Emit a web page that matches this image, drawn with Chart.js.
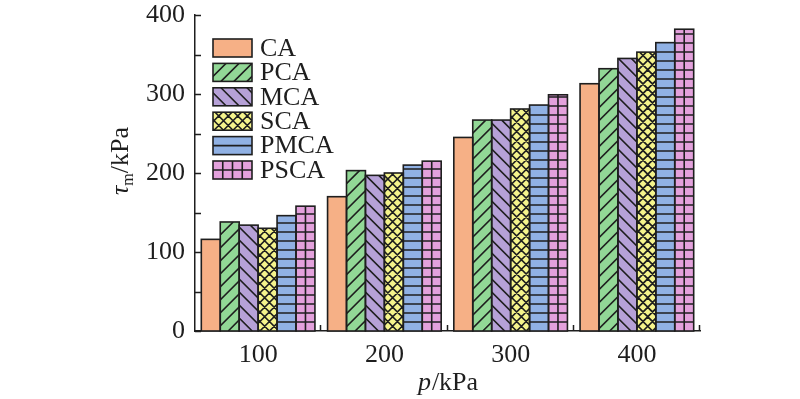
<!DOCTYPE html>
<html>
<head>
<meta charset="utf-8">
<script src="https://cdn.jsdelivr.net/npm/chart.js@4"></script>
<style>
  html, body { margin: 0; padding: 0; background: #fff; }
  #wrap { width: 800px; height: 399px; }
</style>
</head>
<body>
<div id="wrap"><canvas id="myChart"></canvas></div>
<script>
// data
var Categories = ['100', '200', '300', '400'];
var SeriesNames = ['CA', 'PCA', 'MCA', 'SCA', 'PMCA', 'PSCA'];
var CA   = [116, 170, 245, 313];
var PCA  = [138, 203, 267, 332];
var MCA  = [134, 197, 267, 345];
var SCA  = [130, 200, 281, 353];
var PMCA = [146, 210, 286, 365];
var PSCA = [158, 215, 299, 382];
var YTicks = [0, 100, 200, 300, 400];

var Values = [CA, PCA, MCA, SCA, PMCA, PSCA];
var Fills = ['#f6b086', '#92d896', '#b6a1d7', '#f5f48c', '#90b1e4', '#e3a1dc'];
var Hatches = ['none', 'fwd', 'back', 'cross', 'horiz', 'grid'];
var InkColor = '#1e1e1e';
var FontName = '"Liberation Serif", "Times New Roman", serif';

function hatch(ctx, kind, x, y, w, h) {
    ctx.save();
    ctx.beginPath();
    ctx.rect(x, y, w, h);
    ctx.clip();
    ctx.strokeStyle = InkColor;
    ctx.lineWidth = 1.6;
    ctx.beginPath();
    var b = y + h, o, yy;
    if (kind == 'fwd') {
        for (o = -h - 13; o < w + 13; o += 13) { ctx.moveTo(x + o, b); ctx.lineTo(x + o + h, y); }
    }
    if (kind == 'back') {
        for (o = -13; o < w + h + 13; o += 13) { ctx.moveTo(x + o, b); ctx.lineTo(x + o - h, y); }
    }
    if (kind == 'cross') {
        var s = 9.5;
        for (o = -h - s; o < w + h + s; o += s) {
            ctx.moveTo(x + o, b); ctx.lineTo(x + o + h, y);
            ctx.moveTo(x + o, b); ctx.lineTo(x + o - h, y);
        }
    }
    if (kind == 'horiz' || kind == 'grid') {
        for (yy = b - 9; yy > y + 1; yy -= 9) { ctx.moveTo(x, yy); ctx.lineTo(x + w, yy); }
    }
    if (kind == 'grid') {
        var cx = x + w / 2;
        for (o = cx; o < x + w - 1; o += 9.75) { ctx.moveTo(o, y); ctx.lineTo(o, b); }
        for (o = cx - 9.75; o > x + 1; o -= 9.75) { ctx.moveTo(o, y); ctx.lineTo(o, b); }
    }
    ctx.stroke();
    ctx.restore();
    ctx.save();
    ctx.strokeStyle = InkColor;
    ctx.lineWidth = 1.6;
    ctx.strokeRect(x, y, w, h);
    ctx.restore();
}

var DataSets = [];
SeriesNames.forEach(function (name, i) {
    DataSets.push({
        label: name,
        data: Values[i],
        backgroundColor: Fills[i],
        borderWidth: 0,
        hatch: Hatches[i]
    });
});

// hatching, borders, inward ticks, titles and legend
var decorations = {
    id: 'decorations',
    afterDatasetsDraw: function (chart) {
        var ctx = chart.ctx;
        chart.data.datasets.forEach(function (ds, i) {
            var meta = chart.getDatasetMeta(i);
            meta.data.forEach(function (bar) {
                var p = bar.getProps(['x', 'y', 'base', 'width'], true);
                hatch(ctx, ds.hatch, p.x - p.width / 2, p.y, p.width, p.base - p.y);
            });
        });
    },
    afterDraw: function (chart) {
        var ctx = chart.ctx;
        var area = chart.chartArea;
        var ys = chart.scales.y;
        ctx.save();
        ctx.strokeStyle = InkColor;
        ctx.lineWidth = 1.5;
        ctx.beginPath();
        for (var v = 0; v <= 400; v += 50) {
            var py = Math.round(ys.getPixelForValue(v)) + 0.5;
            ctx.moveTo(area.left, py); ctx.lineTo(area.left + 6, py);
        }
        var n = Categories.length;
        for (var i = 1; i <= n; i++) {
            var px = Math.round(area.left + i * (area.right - area.left) / n) - 0.5;
            ctx.moveTo(px, area.bottom); ctx.lineTo(px, area.bottom - 6);
        }
        ctx.stroke();

        // x title
        ctx.fillStyle = InkColor;
        ctx.textBaseline = 'alphabetic';
        ctx.font = 'italic 26px ' + FontName;
        var w1 = ctx.measureText('p').width;
        ctx.font = '26px ' + FontName;
        var w2 = ctx.measureText('/kPa').width;
        var sx = (area.left + area.right) / 2 - (w1 + w2) / 2;
        ctx.font = 'italic 26px ' + FontName;
        ctx.fillText('p', sx, 390);
        ctx.font = '26px ' + FontName;
        ctx.fillText('/kPa', sx + w1 + 1, 390);

        // y title
        ctx.save();
        ctx.translate(128, 195);
        ctx.rotate(-Math.PI / 2);
        ctx.font = 'italic 26px ' + FontName;
        ctx.fillText('\u03c4', 0, 0);
        var t1 = ctx.measureText('\u03c4').width;
        ctx.font = '16px ' + FontName;
        ctx.fillText('m', t1, 5);
        var t2 = ctx.measureText('m').width;
        ctx.font = '26px ' + FontName;
        ctx.fillText('/kPa', t1 + t2, 0);
        ctx.restore();

        // legend
        chart.data.datasets.forEach(function (ds, i) {
            var cy = 48 + i * 24.4;
            ctx.fillStyle = ds.backgroundColor;
            ctx.fillRect(213, cy - 9, 39, 18);
            hatch(ctx, ds.hatch, 213, cy - 9, 39, 18);
            ctx.fillStyle = InkColor;
            ctx.font = '26px ' + FontName;
            ctx.textBaseline = 'middle';
            ctx.fillText(ds.label, 260, cy + 1);
        });
        ctx.restore();
    }
};

var ctx = document.getElementById('myChart').getContext('2d');
var myChart = new Chart(ctx, {
    type: 'bar',
    data: {
        labels: Categories,
        datasets: DataSets
    },
    options: {
        responsive: true,
        maintainAspectRatio: false,
        animation: false,
        layout: { padding: { top: 15, right: 100, left: 0, bottom: 0 } },
        plugins: {
            legend: { display: false },
            tooltip: { enabled: false }
        },
        datasets: {
            bar: { categoryPercentage: 0.9, barPercentage: 1.0 }
        },
        scales: {
            x: {
                grid: { display: false, drawTicks: false },
                border: { display: true, color: InkColor, width: 1.5 },
                ticks: { color: InkColor, font: { family: FontName, size: 26 }, padding: 9, maxRotation: 0 },
                afterFit: function (scale) {
                    scale.height = 68;
                    scale.paddingLeft = 0;
                    scale.paddingRight = 0;
                }
            },
            y: {
                min: 0,
                max: 400,
                afterBuildTicks: function (scale) {
                    scale.ticks = YTicks.map(function (v) { return { value: v }; });
                },
                grid: { display: false, drawTicks: false },
                border: { display: true, color: InkColor, width: 1.5 },
                ticks: { color: InkColor, font: { family: FontName, size: 26 }, padding: 10 },
                afterFit: function (scale) {
                    scale.width = 195;
                    scale.paddingTop = 0;
                    scale.paddingBottom = 0;
                }
            }
        }
    },
    plugins: [decorations]
});
</script>
</body>
</html>
